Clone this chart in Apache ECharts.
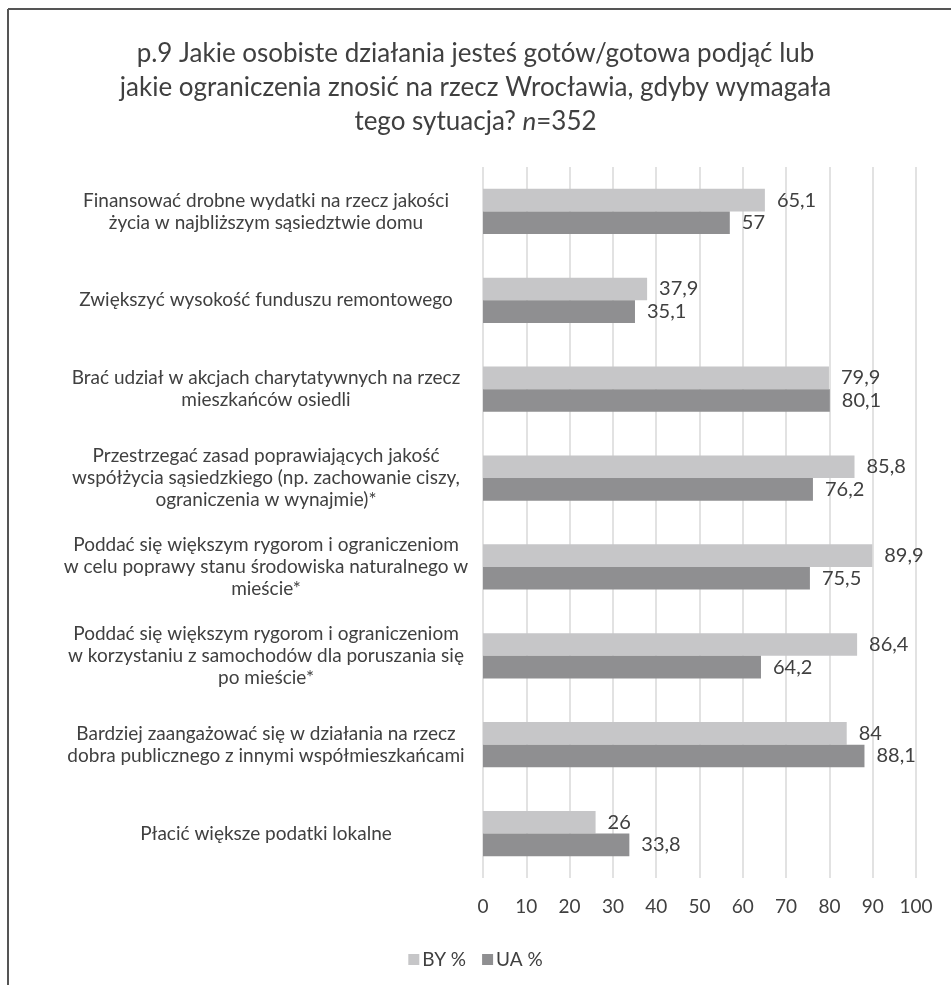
<!DOCTYPE html>
<html>
<head>
<meta charset="utf-8">
<script src="https://cdn.jsdelivr.net/npm/echarts@6/dist/echarts.min.js"></script>
<style>
html,body{margin:0;padding:0;background:#fff;}
#chart{width:951px;height:985px;}
</style>
</head>
<body>
<div id="chart"></div>
<script>
const categories = [
  "Finansować drobne wydatki na rzecz jakości\nżycia w najbliższym sąsiedztwie domu",
  "Zwiększyć wysokość funduszu remontowego",
  "Brać udział w akcjach charytatywnych na rzecz\nmieszkańców osiedli",
  "Przestrzegać zasad poprawiających jakość\nwspółżycia sąsiedzkiego (np. zachowanie ciszy,\nograniczenia w wynajmie)*",
  "Poddać się większym rygorom i ograniczeniom\nw celu poprawy stanu środowiska naturalnego w\nmieście*",
  "Poddać się większym rygorom i ograniczeniom\nw korzystaniu z samochodów dla poruszania się\npo mieście*",
  "Bardziej zaangażować się w działania na rzecz\ndobra publicznego z innymi współmieszkańcami",
  "Płacić większe podatki lokalne"
];
const seriesNames = ["BY %", "UA %"];
const valuesBY = [65.1, 37.9, 79.9, 85.8, 89.9, 86.4, 84, 26];
const valuesUA = [57, 35.1, 80.1, 76.2, 75.5, 64.2, 88.1, 33.8];
const xTicks = { min: 0, max: 100, interval: 10 };

const FONT = "Lato";
const TXT = "#404040";
const fmt = v => String(v).replace(".", ",");

const chart = echarts.init(document.getElementById("chart"), null, { renderer: "canvas" });
chart.setOption({
  backgroundColor: "#fff",
  animation: false,
  textStyle: { fontFamily: FONT, color: TXT },
  title: {
    text: "p.9 Jakie osobiste działania jesteś gotów/gotowa podjąć lub\njakie ograniczenia znosić na rzecz Wrocławia, gdyby wymagała\ntego sytuacja? {i|n}=352",
    left: "center",
    top: 32,
    textStyle: {
      fontFamily: FONT, fontSize: 26, fontWeight: "normal", color: TXT, lineHeight: 34,
      rich: { i: { fontFamily: FONT, fontSize: 26, fontStyle: "italic", color: TXT, lineHeight: 34 } }
    }
  },
  legend: {
    data: seriesNames,
    bottom: 11,
    left: "center",
    itemWidth: 11,
    itemHeight: 11,
    itemGap: 16,
    icon: "rect",
    textStyle: { fontFamily: FONT, fontSize: 19, color: TXT, padding: [0, 0, 0, -2] }
  },
  grid: { left: 483, right: 35, top: 167, bottom: 107, containLabel: false },
  xAxis: {
    type: "value",
    min: xTicks.min, max: xTicks.max, interval: xTicks.interval,
    axisLine: { show: false },
    axisTick: { show: false },
    splitLine: { show: true, lineStyle: { color: "#d9d9d9", width: 1.5 } },
    axisLabel: { fontFamily: FONT, fontSize: 19, color: TXT, margin: 19 }
  },
  yAxis: {
    type: "category",
    data: categories,
    inverse: true,
    axisLine: { show: false },
    axisTick: { show: false },
    axisLabel: {
      fontFamily: FONT, fontSize: 19, color: TXT, lineHeight: 22,
      align: "center", margin: 217, interval: 0
    }
  },
  series: [
    {
      name: seriesNames[0], type: "bar", data: valuesBY,
      barGap: "0%", barCategoryGap: "49%",
      itemStyle: { color: "#c6c6c8" },
      label: { show: true, position: "right", distance: 12, fontFamily: FONT, fontSize: 20, color: TXT, formatter: p => fmt(p.value) }
    },
    {
      name: seriesNames[1], type: "bar", data: valuesUA,
      barGap: "0%", barCategoryGap: "49%",
      itemStyle: { color: "#8f8f91" },
      label: { show: true, position: "right", distance: 12, fontFamily: FONT, fontSize: 20, color: TXT, formatter: p => fmt(p.value) }
    }
  ],
  graphic: [
    { type: "line", shape: { x1: 8, y1: 9, x2: 951, y2: 9 }, style: { stroke: "#555", lineWidth: 2 } },
    { type: "line", shape: { x1: 8, y1: 9, x2: 8, y2: 985 }, style: { stroke: "#555", lineWidth: 2 } }
  ]
});
</script>
</body>
</html>
